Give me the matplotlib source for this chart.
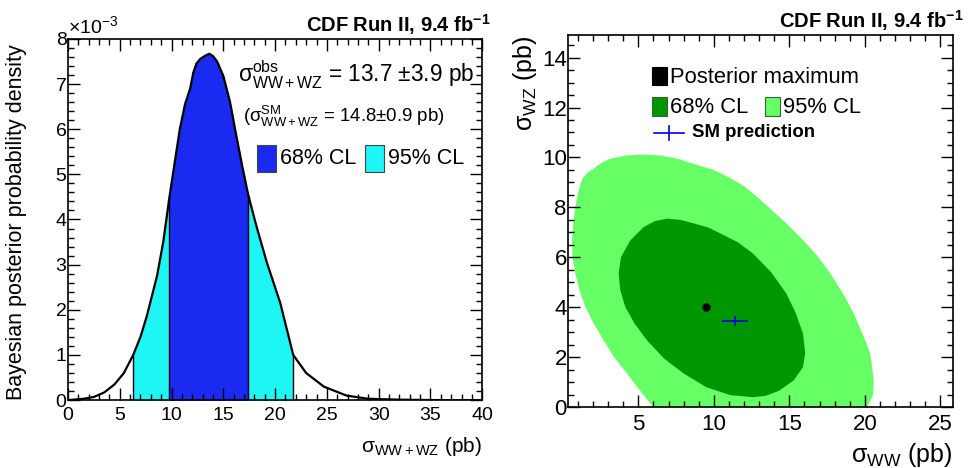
import numpy as np
import matplotlib
matplotlib.use("Agg")
import matplotlib.pyplot as plt
from matplotlib.patches import Rectangle
from matplotlib.ticker import MultipleLocator

plt.rcParams['font.family'] = ['Liberation Sans', 'DejaVu Sans']
plt.rcParams['mathtext.fontset'] = 'custom'
plt.rcParams['mathtext.rm'] = 'Liberation Sans'
plt.rcParams['mathtext.it'] = 'Liberation Sans:italic'
plt.rcParams['mathtext.bf'] = 'Liberation Sans:bold'
plt.rcParams['mathtext.default'] = 'regular'

# left panel: posterior density of sigma(WW+WZ), y in units of 1e-3
sigma_tot = np.array([0, 0.5, 1.5, 2.5, 3.5, 4.5, 5.4, 6.3, 7.0, 7.6, 8.1, 8.6, 9.2, 9.8,
                      10.3, 10.8, 11.3, 11.8, 12.1, 12.4, 12.75, 13.2, 13.65, 14.0,
                      14.4, 15.0, 15.65, 16.3, 16.9, 17.4, 18.2, 19.2, 20.5, 21.75,
                      23.0, 24.7, 26.9, 29.0, 32.0, 36.0, 40.0])
density = np.array([0.0, 0.01, 0.03, 0.07, 0.17, 0.35, 0.6, 1.0, 1.4, 1.85, 2.3, 2.75,
                    3.5, 4.5, 5.25, 6.0, 6.55, 6.9, 7.25, 7.45, 7.55, 7.62, 7.67, 7.62,
                    7.5, 7.18, 6.6, 5.8, 5.1, 4.55, 3.85, 3.05, 2.15, 1.0, 0.6, 0.3, 0.1,
                    0.03, 0.01, 0.0, 0.0])
cl68 = (9.8, 17.4)
cl95 = (6.3, 21.75)

# right panel: 2D contours in (sigma_WW, sigma_WZ)
ww95 = [6.0, 5.8, 5.0, 4.25, 3.4, 2.7, 2.05, 1.5, 1.1, 0.83, 0.65, 0.61, 0.7, 0.83, 1.05,
        1.3, 1.65, 2.05, 2.6, 3.15, 4.27, 5.33, 6.46, 7.6, 8.6, 10.0, 11.0, 12.0, 13.0,
        14.0, 14.9, 15.73, 16.8, 17.72, 18.6, 19.3, 19.9, 20.36, 20.58, 20.55, 20.15]
wz95 = [0.0, 0.15, 0.75, 1.35, 2.0, 2.68, 3.35, 4.01, 4.7, 5.35, 6.0, 6.68, 7.4, 8.01,
        8.68, 9.15, 9.4, 9.55, 9.8, 9.95, 10.08, 10.12, 10.08, 9.95, 9.75, 9.5, 9.2,
        8.85, 8.35, 7.8, 7.3, 6.8, 6.1, 5.35, 4.5, 3.7, 2.85, 2.15, 1.08, 0.5, 0.0]
ww68 = [12.6, 11.1, 9.5, 8.0, 6.7, 5.57, 4.75, 4.14, 3.8, 3.7, 3.85, 4.47, 5.35, 6.1, 6.9,
        7.8, 8.6, 9.6, 10.43, 11.6, 12.6, 13.8, 14.8, 15.4, 15.9, 16.05, 15.9, 15.3,
        14.3, 13.4]
wz68 = [0.4, 0.48, 0.8, 1.35, 1.95, 2.68, 3.35, 4.01, 4.7, 5.35, 6.0, 6.68, 7.21, 7.45,
        7.55, 7.5, 7.37, 7.2, 6.96, 6.6, 6.15, 5.4, 4.55, 3.8, 2.96, 2.16, 1.6, 1.08,
        0.65, 0.45]
post_max = (9.5, 4.0)
sm_pred = (11.4, 3.45)
sm_err = (0.83, 0.2)

blue = '#1a2af0'
cyan = '#1ef5f5'
dgreen = '#009600'
lgreen = '#66ff66'

fig = plt.figure(figsize=(9.68, 4.68), dpi=100)
ax1 = fig.add_axes([0.0702, 0.145, 0.428, 0.772])
ax2 = fig.add_axes([0.587, 0.130, 0.397, 0.795])

# ---- left panel
m95 = (sigma_tot >= cl95[0]) & (sigma_tot <= cl95[1])
m68 = (sigma_tot >= cl68[0]) & (sigma_tot <= cl68[1])
ax1.fill_between(sigma_tot, 0, density, where=m95, color=cyan, lw=0)
ax1.fill_between(sigma_tot, 0, density, where=m68, color=blue, lw=0)
edges = [cl95[0], cl68[0], cl68[1], cl95[1]]
ax1.vlines(edges, 0, np.interp(edges, sigma_tot, density), color='black', lw=1)
ax1.plot(sigma_tot, density, color='black', lw=1.6)
ax1.set_xlim(0, 40)
ax1.set_ylim(0, 8.0)
ax1.xaxis.set_major_locator(MultipleLocator(5))
ax1.xaxis.set_minor_locator(MultipleLocator(1))
ax1.yaxis.set_major_locator(MultipleLocator(1))
ax1.yaxis.set_minor_locator(MultipleLocator(0.2))
ax1.set_ylabel('Bayesian posterior probability density', fontsize=15.5)
ax1.yaxis.set_label_coords(-0.10, 0.493)
ax1.set_xlabel(r'$\sigma_{WW+WZ}$ (pb)', fontsize=15, loc='right', labelpad=8)
ax1.text(0.0, 1.017, r'$\times$10$^{-3}$', transform=ax1.transAxes, fontsize=14,
         ha='left', va='baseline')
ax1.text(1.019, 1.039, r'CDF Run II, 9.4 fb$^{\mathbf{-1}}$', transform=ax1.transAxes,
         fontsize=14.5, fontweight='bold', ha='right', va='center')
ax1.text(0.411, 0.900, r'$\sigma^{obs}_{WW+WZ}$ = 13.7 $\pm$3.9 pb', transform=ax1.transAxes,
         fontsize=16.3, ha='left', va='center')
ax1.text(0.423, 0.784, r'($\sigma^{SM}_{WW+WZ}$ = 14.8$\pm$0.9 pb)', transform=ax1.transAxes,
         fontsize=13.4, ha='left', va='center')
for x0, col, lab in [(0.457, blue, '68% CL'), (0.717, cyan, '95% CL')]:
    ax1.add_patch(Rectangle((x0, 0.632), 0.046, 0.074, transform=ax1.transAxes,
                            facecolor=col, edgecolor='#444444', lw=0.8))
    ax1.text(x0 + 0.055, 0.668, lab, transform=ax1.transAxes, fontsize=15.5,
             ha='left', va='center')

# ---- right panel
ax2.fill(ww95, wz95, color=lgreen, lw=0)
ax2.fill(ww68, wz68, color=dgreen, lw=0)
ax2.plot(*post_max, 'o', color='black', ms=5)
ax2.errorbar(*sm_pred, xerr=sm_err[0], yerr=sm_err[1], color='#0000dd', lw=1.2, capsize=0)
ax2.set_xlim(0.36, 25.8)
ax2.set_ylim(0, 14.9)
ax2.xaxis.set_major_locator(MultipleLocator(5))
ax2.xaxis.set_minor_locator(MultipleLocator(1))
ax2.yaxis.set_major_locator(MultipleLocator(2))
ax2.yaxis.set_minor_locator(MultipleLocator(0.5))
ax2.set_ylabel(r'$\sigma_{WZ}$ (pb)', fontsize=18, loc='top', labelpad=2)
ax2.set_xlabel(r'$\sigma_{WW}$ (pb)', fontsize=18, loc='right', labelpad=4)
ax2.text(1.029, 1.039, r'CDF Run II, 9.4 fb$^{\mathbf{-1}}$', transform=ax2.transAxes,
         fontsize=14.5, fontweight='bold', ha='right', va='center')
ax2.add_patch(Rectangle((0.219, 0.866), 0.039, 0.048, transform=ax2.transAxes,
                        facecolor='black', edgecolor='black', lw=0.8))
ax2.text(0.266, 0.887, 'Posterior maximum', transform=ax2.transAxes, fontsize=15.8,
         ha='left', va='center')
for x0, col, lab in [(0.219, dgreen, '68% CL'), (0.513, lgreen, '95% CL')]:
    ax2.add_patch(Rectangle((x0, 0.782), 0.039, 0.051, transform=ax2.transAxes,
                            facecolor=col, edgecolor='#336633', lw=0.8))
    ax2.text(x0 + 0.047, 0.806, lab, transform=ax2.transAxes, fontsize=15.8,
             ha='left', va='center')
ax2.plot([0.224, 0.302], [0.737, 0.737], color='#0000dd', lw=1.2, transform=ax2.transAxes)
ax2.plot([0.263, 0.263], [0.717, 0.757], color='#0000dd', lw=1.2, transform=ax2.transAxes)
ax2.text(0.323, 0.737, 'SM prediction', transform=ax2.transAxes, fontsize=13.4,
         fontweight='bold', ha='left', va='center')

for ax, fs in [(ax1, 14), (ax2, 16)]:
    ax.tick_params(which='both', direction='in', top=True, right=True, width=1)
    ax.tick_params(which='major', length=8.5, labelsize=fs)
    ax.tick_params(which='minor', length=4.5)
    ax.tick_params(axis='x', which='major', pad=5)
    ax.tick_params(axis='y', which='major', pad=1)
    for s in ax.spines.values():
        s.set_linewidth(1.2)

fig.savefig('out.png', dpi=100)
